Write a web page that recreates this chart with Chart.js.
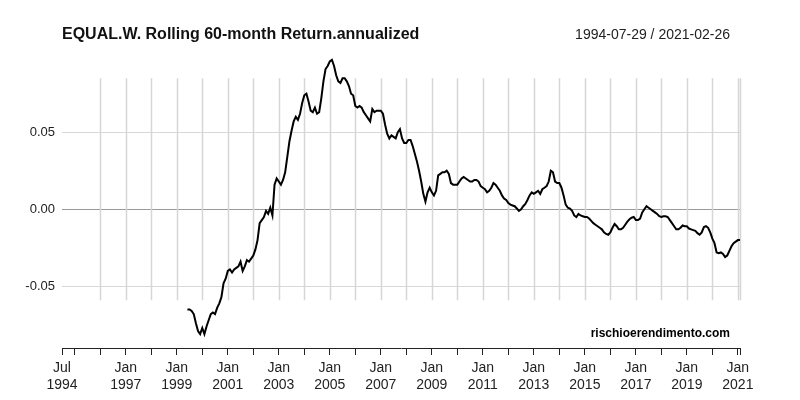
<!DOCTYPE html>
<html>
<head>
<meta charset="utf-8">
<script src="https://cdn.jsdelivr.net/npm/chart.js@4.4.1/dist/chart.umd.min.js"></script>
<style>
    html, body { margin: 0; padding: 0; background: #fff; }
    #wrap { width: 800px; height: 400px; position: relative; }
</style>
</head>
<body>
<div id="wrap"><canvas id="rollChart" width="800" height="400"></canvas></div>
<script>
// series starts in Jul 1994, first rolling value is Jun 1999 (60th month)
const seriesStart = { year: 1994, month: 7 };
const firstValue = { year: 1999, month: 6 };
const lastMonthIndex = 319; // Feb 2021

// rolling 60-month annualized return, monthly, Jun 1999 -> Feb 2021
const returns = [
    -0.065, -0.065, -0.066, -0.068, -0.074, -0.079, -0.081,
    -0.077, -0.081, -0.076, -0.072, -0.068, -0.067, -0.068, -0.064, -0.061, -0.057, -0.048, -0.045,
    -0.040, -0.039, -0.041, -0.039, -0.038, -0.037, -0.034, -0.040, -0.037, -0.033, -0.034, -0.032,
    -0.030, -0.026, -0.020, -0.009, -0.007, -0.005, -0.001, -0.003, 0.001, -0.004, 0.016, 0.020,
    0.018, 0.016, 0.019, 0.024, 0.034, 0.044, 0.051, 0.057, 0.060, 0.058, 0.062, 0.069,
    0.074, 0.075, 0.070, 0.064, 0.063, 0.066, 0.062, 0.063, 0.072, 0.083, 0.091, 0.093,
    0.096, 0.097, 0.093, 0.087, 0.083, 0.082, 0.085, 0.085, 0.083, 0.080, 0.075, 0.074,
    0.067, 0.066, 0.067, 0.066, 0.063, 0.061, 0.059, 0.057, 0.065, 0.063, 0.064, 0.064,
    0.064, 0.062, 0.055, 0.049, 0.046, 0.048, 0.047, 0.046, 0.050, 0.052, 0.046, 0.043,
    0.043, 0.045, 0.045, 0.041, 0.036, 0.031, 0.025, 0.018, 0.010, 0.005, 0.011, 0.014,
    0.011, 0.009, 0.012, 0.022, 0.023, 0.024, 0.024, 0.025, 0.023, 0.017, 0.016, 0.016,
    0.016, 0.018, 0.020, 0.021, 0.020, 0.019, 0.018, 0.018, 0.019, 0.019, 0.018, 0.015,
    0.014, 0.013, 0.011, 0.012, 0.014, 0.017, 0.016, 0.014, 0.012, 0.009, 0.007, 0.006,
    0.004, 0.003, 0.0025, 0.002, 0.0005, -0.001, 0.000, 0.002, 0.0035, 0.006, 0.009, 0.011,
    0.010, 0.011, 0.012, 0.010, 0.013, 0.014, 0.015, 0.018, 0.025, 0.024, 0.018, 0.017,
    0.017, 0.014, 0.009, 0.003, 0.001, 0.0005, -0.001, -0.004, -0.005, -0.003, -0.004, -0.0045,
    -0.005, -0.005, -0.006, -0.0075, -0.009, -0.010, -0.011, -0.012, -0.013, -0.015, -0.016, -0.0165,
    -0.015, -0.012, -0.0095, -0.011, -0.013, -0.013, -0.012, -0.010, -0.008, -0.0065, -0.0055, -0.005,
    -0.007, -0.007, -0.006, -0.002, 0.000, 0.002, 0.001, 0.000, -0.001, -0.002, -0.003, -0.0045,
    -0.005, -0.0045, -0.0045, -0.005, -0.007, -0.009, -0.011, -0.013, -0.013, -0.012, -0.0105, -0.011,
    -0.011, -0.0125, -0.013, -0.0135, -0.014, -0.0155, -0.0165, -0.015, -0.0115, -0.011, -0.012, -0.015,
    -0.019, -0.022, -0.028, -0.0285, -0.028, -0.029, -0.031, -0.030, -0.027, -0.024, -0.022, -0.021,
    -0.020, -0.020
];

// tick labels
const yTicks = [-0.05, 0, 0.05];
const labelledYears = [1997, 1999, 2001, 2003, 2005, 2007, 2009, 2011, 2013, 2015, 2017, 2019, 2021];
const gridYears = [1996, 1997, 1998, 1999, 2000, 2001, 2002, 2003, 2004, 2005, 2006, 2007, 2008,
    2009, 2010, 2011, 2012, 2013, 2014, 2015, 2016, 2017, 2018, 2019, 2020, 2021];

const titleText = 'EQUAL.W. Rolling 60-month Return.annualized';
const rangeText = '1994-07-29 / 2021-02-26';
const sourceText = 'rischioerendimento.com';

const FONT = "'Liberation Sans', Arial, sans-serif";
const NARROW = "'Liberation Sans Narrow', 'Arial Narrow', 'Liberation Sans', sans-serif";

// month offset from Jul 1994
function monthIndex(year, month) {
    return (year - seriesStart.year) * 12 + (month - seriesStart.month);
}

document.addEventListener('DOMContentLoaded', () => {
    const offset = monthIndex(firstValue.year, firstValue.month);
    const points = returns.map((v, i) => ({ x: offset + i, y: v }));

    // x ticks: start, every January, end
    const janTicks = [];
    for (let y = 1995; y <= 2021; y++) janTicks.push(monthIndex(y, 1));
    const xTickValues = [0, ...janTicks, lastMonthIndex];
    const gridValues = [...gridYears.map(y => monthIndex(y, 1)), lastMonthIndex];

    // draws title, date range, source note and the short vertical grid lines
    const decorations = {
        id: 'decorations',
        beforeDatasetsDraw(chart) {
            const { ctx, scales } = chart;
            const top = scales.y.getPixelForValue(0.085);
            const bottom = scales.y.getPixelForValue(-0.059);
            ctx.save();
            ctx.strokeStyle = '#d6d6d6';
            ctx.lineWidth = 1.5;
            gridValues.forEach(v => {
                const x = Math.round(scales.x.getPixelForValue(v)) + 0.5;
                ctx.beginPath();
                ctx.moveTo(x, top);
                ctx.lineTo(x, bottom);
                ctx.stroke();
            });
            ctx.restore();
        },
        afterDraw(chart) {
            const { ctx } = chart;
            ctx.save();
            ctx.textBaseline = 'middle';
            ctx.fillStyle = '#111';
            ctx.font = 'bold 16px ' + FONT;
            ctx.textAlign = 'left';
            ctx.fillText(titleText, 62, 35);
            ctx.font = '14px ' + FONT;
            ctx.fillStyle = '#222';
            ctx.textAlign = 'right';
            ctx.fillText(rangeText, 730, 35);
            ctx.font = 'bold 12px ' + FONT;
            ctx.fillStyle = '#000';
            ctx.fillText(sourceText, 730, 334);
            ctx.restore();
        }
    };

    const ctx = document.getElementById('rollChart').getContext('2d');
    new Chart(ctx, {
        type: 'line',
        data: {
            datasets: [{
                data: points,
                borderColor: '#000',
                borderWidth: 2,
                pointRadius: 0,
                tension: 0,
                fill: false
            }]
        },
        options: {
            responsive: false,
            animation: false,
            layout: { padding: { top: 49, right: 60, left: 0, bottom: 0 } },
            plugins: {
                legend: { display: false },
                tooltip: { enabled: false }
            },
            scales: {
                x: {
                    type: 'linear',
                    min: 0,
                    max: lastMonthIndex,
                    afterBuildTicks: scale => {
                        scale.ticks = xTickValues.map(v => ({ value: v }));
                    },
                    afterFit: scale => { scale.height = 52; },
                    border: { display: true, color: '#222', width: 1 },
                    grid: {
                        drawOnChartArea: false,
                        drawTicks: true,
                        tickLength: 7,
                        color: '#222'
                    },
                    ticks: {
                        autoSkip: false,
                        maxRotation: 0,
                        padding: 5,
                        color: '#222',
                        font: { family: NARROW, size: 14 },
                        callback: value => {
                            if (value === 0) return ['Jul', '1994'];
                            for (const y of labelledYears) {
                                if (value === monthIndex(y, 1)) return ['Jan', String(y)];
                            }
                            return '';
                        }
                    }
                },
                y: {
                    min: -0.09,
                    max: 0.104,
                    afterBuildTicks: scale => {
                        scale.ticks = yTicks.map(v => ({ value: v }));
                    },
                    afterFit: scale => { scale.width = 62; },
                    border: { display: false },
                    grid: {
                        drawTicks: false,
                        lineWidth: 1,
                        color: c => (c.tick && c.tick.value === 0 ? '#999' : '#d8d8d8')
                    },
                    ticks: {
                        padding: 7,
                        color: '#222',
                        font: { family: NARROW, size: 13 },
                        callback: value => value.toFixed(2)
                    }
                }
            }
        },
        plugins: [decorations]
    });
});
</script>
</body>
</html>
